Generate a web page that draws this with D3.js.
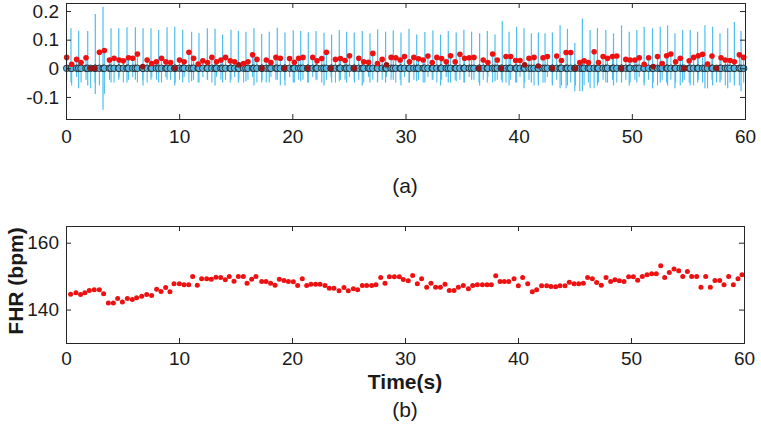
<!DOCTYPE html>
<html><head><meta charset="utf-8">
<script src="https://cdn.jsdelivr.net/npm/d3@7"></script>
<style>
body{margin:0;background:#fff}
svg{display:block}
text{font-family:"Liberation Sans",Arial,Helvetica,sans-serif}
</style>
</head><body>
<svg id="c" width="761" height="433"></svg>
<script>
// ---------------- DATA ----------------
const xTicks = [0, 10, 20, 30, 40, 50, 60];
const topYTicks = [-0.1, 0, 0.1, 0.2];
const topYLabels = ["-0.1", "0", "0.1", "0.2"];
const bottomYTicks = [140, 160];

// maternal ECG complexes (blue tall spikes): time (s), peak, trough
const maternalT = [0.44,1.12,1.92,2.59,3.27,3.98,4.66,5.39,6.13,6.81,
  7.51,8.19,8.93,9.61,10.31,11.1,11.75,12.49,13.17,13.84,
  14.58,15.23,15.9,16.61,17.29,17.96,18.67,19.35,20.08,20.74,
  21.41,22.09,22.8,23.47,24.15,24.8,25.47,26.18,26.86,27.54,
  28.24,28.92,29.6,30.31,30.99,31.71,32.42,33.1,33.78,34.48,
  35.16,35.84,36.55,37.23,37.91,38.55,39.15,39.82,40.47,41.12,
  41.74,42.33,42.98,43.66,44.31,44.96,45.63,46.31,46.96,47.7,
  48.38,49.09,49.77,50.44,51.09,51.83,52.51,53.16,53.81,54.49,
  55.16,55.81,56.46,57.14,57.79,58.47,59.06,59.65];
const maternalHi = [0.140,0.130,0.130,0.190,0.215,0.140,0.140,0.143,0.143,0.140,
  0.140,0.134,0.143,0.145,0.135,0.128,0.122,0.140,0.138,0.118,
  0.135,0.130,0.128,0.140,0.120,0.128,0.142,0.125,0.132,0.130,
  0.126,0.130,0.124,0.118,0.134,0.128,0.125,0.130,0.122,0.136,
  0.128,0.133,0.125,0.138,0.118,0.127,0.133,0.118,0.130,0.125,
  0.135,0.128,0.122,0.130,0.118,0.165,0.128,0.145,0.140,0.122,
  0.125,0.122,0.125,0.150,0.138,0.088,0.174,0.134,0.140,0.134,
  0.122,0.150,0.128,0.134,0.145,0.140,0.145,0.150,0.122,0.134,
  0.134,0.128,0.150,0.145,0.122,0.140,0.162,0.130];
const maternalLo = [-0.05,-0.07,-0.06,-0.09,-0.145,-0.05,-0.04,-0.05,-0.04,-0.06,
  -0.04,-0.05,-0.04,-0.06,-0.05,-0.045,-0.05,-0.04,-0.06,-0.05,
  -0.04,-0.05,-0.045,-0.06,-0.05,-0.05,-0.04,-0.06,-0.05,-0.045,
  -0.05,-0.04,-0.06,-0.05,-0.045,-0.05,-0.04,-0.06,-0.05,-0.045,
  -0.05,-0.04,-0.06,-0.05,-0.045,-0.05,-0.04,-0.06,-0.05,-0.045,
  -0.05,-0.04,-0.06,-0.05,-0.045,-0.05,-0.06,-0.05,-0.07,-0.05,
  -0.06,-0.05,-0.06,-0.07,-0.06,-0.08,-0.08,-0.07,-0.06,-0.05,
  -0.06,-0.05,-0.06,-0.05,-0.06,-0.07,-0.05,-0.06,-0.07,-0.05,
  -0.06,-0.05,-0.07,-0.06,-0.05,-0.07,-0.06,-0.08];

// fetal R-peaks (red dots): time (s), amplitude, trough of the blue complex
const fetalT = [0.06,0.50,0.94,1.33,1.77,2.18,2.56,2.95,3.39,3.84,4.25,4.69,5.07,5.52,5.90,6.31,6.78,7.17,7.58,7.99,
  8.44,8.82,9.24,9.65,10.03,10.44,10.86,11.27,11.68,12.09,12.51,12.89,13.30,13.69,14.10,14.51,14.90,15.28,15.69,16.08,
  16.49,16.87,
  17.32,17.70,18.11,18.55,18.94,19.32,19.76,20.18,20.56,20.94,21.36,21.80,22.18,22.60,23.01,23.42,23.81,24.25,24.66,25.05,
  25.49,25.87,26.31,26.73,27.11,27.52,27.94,28.32,28.73,29.14,29.53,29.91,30.35,30.74,31.15,31.56,31.98,32.36,32.77,33.19,
  33.60,33.98,34.39,34.81,35.22,35.63,36.05,36.49,36.87,37.28,37.70,38.11,38.47,38.88,
  39.29,39.73,40.12,40.53,40.91,41.36,41.74,42.15,42.54,42.98,43.36,43.78,44.19,44.60,45.01,45.40,45.78,46.16,46.67,47.05,
  47.46,47.85,48.29,48.67,49.09,49.47,49.85,50.27,50.65,51.09,51.48,51.89,52.27,52.68,53.07,53.45,53.87,54.28,54.63,55.07,
  55.46,55.87,56.25,56.69,57.08,57.49,57.88,58.26,58.68,59.06,59.50,59.88];
const fetalAmp = [0.038,0.014,0.031,0.020,0.037,0,0,0.056,0.062,0.029,0.035,0.029,0.026,0.037,0.035,0.050,0.006,0.029,0.017,0.023,
  0.035,0.023,0.020,0,0.029,0.023,0.056,0.035,0.015,0.026,0.020,0.038,0.023,0.029,0.038,0.026,0.023,0.012,0.017,0.023,
  0.047,0.031,
  0,0.029,0.020,0.038,0.035,0,0.034,0.021,0.035,0.038,0,0.038,0.026,0.034,0.056,0,0.031,0.034,0.027,0.044,
  0,0.035,0.023,0.021,0.052,0.017,0.031,0.012,0.038,0.037,0.029,0.041,0.023,0.038,0.033,0.029,0.043,0.020,0.038,0.034,
  0.023,0.044,0.023,0.049,0.035,0.037,0.038,0,0.029,0.020,0.050,0.029,0,0.041,
  0.041,0.027,0.027,0.012,0.035,0.038,0.008,0.037,0.041,0,0.043,0.027,0.055,0.055,0,0.020,0.026,0.020,0.058,0.020,
  0.041,0.035,0.041,0.043,0,0.031,0.029,0.029,0.037,0.014,0.037,0.006,0.041,0.017,0.044,0.050,0.023,0.035,0,0.026,
  0.038,0.044,0.049,0.015,0.043,0,0.037,0.029,0.027,0.023,0.047,0.038];
const fetalLo = [-0.04,-0.06,-0.03,-0.05,-0.04,-0.07,-0.05,-0.06,-0.09,-0.04,-0.05,-0.03,-0.05,-0.04,-0.03,-0.05,-0.04,-0.05,-0.03,-0.04,
  -0.05,-0.03,-0.04,-0.05,-0.04,-0.03,-0.05,-0.04,-0.05,-0.03,-0.04,-0.05,-0.03,-0.04,-0.04,-0.05,-0.03,-0.04,-0.05,-0.04,
  -0.03,-0.05,
  -0.04,-0.05,-0.03,-0.04,-0.06,-0.04,-0.03,-0.05,-0.04,-0.04,-0.05,-0.03,-0.04,-0.05,-0.04,-0.03,-0.05,-0.04,-0.04,-0.03,
  -0.05,-0.04,-0.05,-0.03,-0.04,-0.05,-0.04,-0.03,-0.04,-0.05,-0.04,-0.03,-0.05,-0.04,-0.04,-0.05,-0.03,-0.04,-0.05,-0.04,
  -0.03,-0.05,-0.04,-0.04,-0.05,-0.03,-0.04,-0.05,-0.04,-0.03,-0.05,-0.04,-0.04,-0.05,
  -0.04,-0.05,-0.03,-0.05,-0.04,-0.06,-0.04,-0.05,-0.03,-0.05,-0.04,-0.06,-0.07,-0.05,-0.06,-0.08,-0.06,-0.05,-0.07,-0.05,
  -0.04,-0.05,-0.04,-0.05,-0.03,-0.04,-0.05,-0.04,-0.03,-0.05,-0.04,-0.05,-0.06,-0.04,-0.05,-0.04,-0.05,-0.06,-0.04,-0.05,
  -0.06,-0.04,-0.05,-0.07,-0.04,-0.05,-0.04,-0.06,-0.05,-0.04,-0.06,-0.05];

// fetal heart rate (panel b)
const fhrT = [0.41,0.88,1.29,1.67,2.06,2.50,2.95,3.33,3.75,4.19,4.57,4.99,5.43,5.87,6.25,6.70,7.14,7.58,8.02,8.41,
  8.82,9.20,9.56,10.03,10.44,10.86,11.21,11.62,12.00,12.45,12.86,13.27,13.69,14.10,14.45,14.87,15.25,15.69,16.02,16.43,
  16.81,
  17.32,17.70,18.11,18.50,18.88,19.29,19.68,20.12,20.50,20.91,21.30,21.68,22.09,22.48,22.92,23.30,23.71,24.16,24.60,24.98,
  25.43,25.81,26.22,26.61,27.05,27.43,27.85,28.23,28.62,29.06,29.50,29.85,30.29,30.68,31.09,31.47,31.92,32.30,32.71,33.13,
  33.54,33.92,34.34,34.72,35.16,35.61,35.99,36.40,36.85,37.26,37.64,38.03,38.41,38.79,39.18,
  39.65,40.03,40.41,40.86,41.27,41.65,42.09,42.54,42.92,43.33,43.72,44.16,44.54,44.96,45.37,45.78,46.16,46.58,46.96,47.37,
  47.79,48.20,48.58,48.97,49.38,49.79,50.21,50.59,51.00,51.42,51.83,52.24,52.63,52.98,53.39,53.81,54.22,54.58,54.99,55.37,
  55.81,56.19,56.61,57.02,57.43,57.85,58.23,58.64,59.06,59.47,59.82];
const fhrBpm = [144.6,145.0,144.5,145.0,145.7,145.9,145.9,144.7,142.0,142.0,143.3,142.3,143.3,143.0,143.5,144.0,144.5,144.2,146.1,145.4,
  146.6,145.3,147.7,147.7,147.4,147.4,149.9,147.3,149.2,149.2,149.1,149.7,149.6,148.9,149.9,148.5,149.9,149.9,147.9,149.1,
  149.9,
  148.4,148.4,147.9,147.3,149.1,148.7,148.4,148.3,147.2,149.2,147.2,147.6,147.6,147.6,147.2,146.4,146.4,145.6,146.6,145.6,
  146.2,145.9,147.2,147.2,147.2,147.4,149.6,147.9,149.8,149.8,149.8,149.0,148.6,150.2,147.7,149.2,146.7,147.9,146.7,146.7,
  147.6,145.7,145.7,146.7,147.2,146.2,147.2,147.4,147.4,147.4,147.4,150.1,148.4,148.4,148.4,
  149.2,147.1,149.6,147.7,145.3,145.9,147.1,147.1,146.9,146.8,147.1,147.1,148.2,147.7,147.7,147.9,149.6,149.2,148.1,147.3,
  149.6,148.4,148.9,148.6,148.4,149.8,149.8,148.8,149.9,150.4,150.7,150.7,153.1,149.6,151.1,152.1,151.6,149.9,151.4,149.9,
  149.9,146.7,149.9,146.7,148.7,148.7,147.4,149.9,147.4,149.2,150.4];

// ---------------- DRAW ----------------
const svg = d3.select("#c");
svg.append("rect").attr("width", 761).attr("height", 433).attr("fill", "#fff");

const AX = "#262626", TXT = "#1a1a1a";
const BLUE = "#4dbeee", RED = "#ee1111", DARKRED = "#9c1515";

function drawAxes(x, y, yTicks, yFmt, top, bottom, left, right, xPad) {
  const g = svg.append("g");
  g.append("g").attr("transform", `translate(0,${bottom})`)
    .call(d3.axisBottom(x).tickValues(xTicks).tickSize(-5).tickPadding(xPad).tickFormat(d3.format("d")));
  g.append("g").attr("transform", `translate(0,${top})`)
    .call(d3.axisTop(x).tickValues(xTicks).tickSize(-5).tickFormat(""));
  g.append("g").attr("transform", `translate(${left},0)`)
    .call(d3.axisLeft(y).tickValues(yTicks).tickSize(-5).tickPadding(7).tickFormat(yFmt));
  g.append("g").attr("transform", `translate(${right},0)`)
    .call(d3.axisRight(y).tickValues(yTicks).tickSize(-5).tickFormat(""));
  g.selectAll(".domain").remove();
  g.selectAll(".tick line").attr("stroke", AX).attr("stroke-width", 1);
  g.selectAll(".tick text").attr("font-size", 19).attr("fill", TXT)
    .attr("font-family", "'Liberation Sans', Arial, sans-serif");
  g.append("rect").attr("x", left).attr("y", top).attr("width", right - left).attr("height", bottom - top)
    .attr("fill", "none").attr("stroke", AX).attr("stroke-width", 1).attr("shape-rendering", "crispEdges");
}

// ---- panel (a)
const xA = d3.scaleLinear().domain([0, 60]).range([66, 745]);
const yA = d3.scaleLinear().domain([-0.177, 0.228]).range([119, 3]);

const gA = svg.append("g");
const nF = Math.min(fetalT.length, fetalAmp.length, fetalLo.length);
const fetal = d3.range(nF).map(i => ({t: fetalT[i], a: fetalAmp[i], lo: fetalLo[i]}));
const nM = Math.min(maternalT.length, maternalHi.length, maternalLo.length);
const maternal = d3.range(nM).map(i => ({t: maternalT[i], hi: maternalHi[i], lo: maternalLo[i]}));

gA.selectAll("line.f").data(fetal).join("line").attr("class", "f")
  .attr("x1", d => xA(d.t)).attr("x2", d => xA(d.t))
  .attr("y1", d => yA(d.lo)).attr("y2", d => yA(d.a))
  .attr("stroke", BLUE).attr("stroke-width", 1.1);
gA.selectAll("line.m").data(maternal).join("line").attr("class", "m")
  .attr("x1", d => xA(d.t)).attr("x2", d => xA(d.t))
  .attr("y1", d => yA(d.lo)).attr("y2", d => yA(d.hi))
  .attr("stroke", BLUE).attr("stroke-width", 1.2);

const allBeats = maternalT.concat(fetalT).sort((a, b) => a - b);
gA.selectAll("circle.o").data(allBeats).join("circle").attr("class", "o")
  .attr("cx", d => xA(d)).attr("cy", yA(0)).attr("r", 3.3)
  .attr("fill", "#58b6e0").attr("stroke", "#161616").attr("stroke-width", 0.8);

gA.selectAll("circle.r").data(fetal).join("circle").attr("class", "r")
  .attr("cx", d => xA(d.t)).attr("cy", d => yA(d.a)).attr("r", 2.8)
  .attr("fill", d => d.a < 0.013 ? DARKRED : RED);

drawAxes(xA, yA, topYTicks, (d, i) => topYLabels[i], 3, 119, 66, 745, 11);

svg.append("text").attr("x", 405).attr("y", 193).attr("text-anchor", "middle")
  .attr("font-size", 21).attr("fill", TXT).text("(a)");

// ---- panel (b)
const xB = d3.scaleLinear().domain([0, 60]).range([66, 744]);
const yB = d3.scaleLinear().domain([130, 165]).range([343, 226]);
const nH = Math.min(fhrT.length, fhrBpm.length);
svg.append("g").selectAll("circle").data(d3.range(nH)).join("circle")
  .attr("cx", i => xB(fhrT[i])).attr("cy", i => yB(fhrBpm[i])).attr("r", 2.5)
  .attr("fill", RED);

drawAxes(xB, yB, bottomYTicks, d3.format("d"), 226, 343, 66, 744, 9);

svg.append("text").attr("x", 405).attr("y", 389).attr("text-anchor", "middle")
  .attr("font-size", 21).attr("font-weight", "bold").attr("fill", TXT).text("Time(s)");
svg.append("text").attr("transform", "translate(23,281) rotate(-90)").attr("text-anchor", "middle")
  .attr("font-size", 21).attr("font-weight", "bold").attr("fill", TXT).text("FHR (bpm)");
svg.append("text").attr("x", 405).attr("y", 417).attr("text-anchor", "middle")
  .attr("font-size", 21).attr("fill", TXT).text("(b)");
</script>
</body></html>
